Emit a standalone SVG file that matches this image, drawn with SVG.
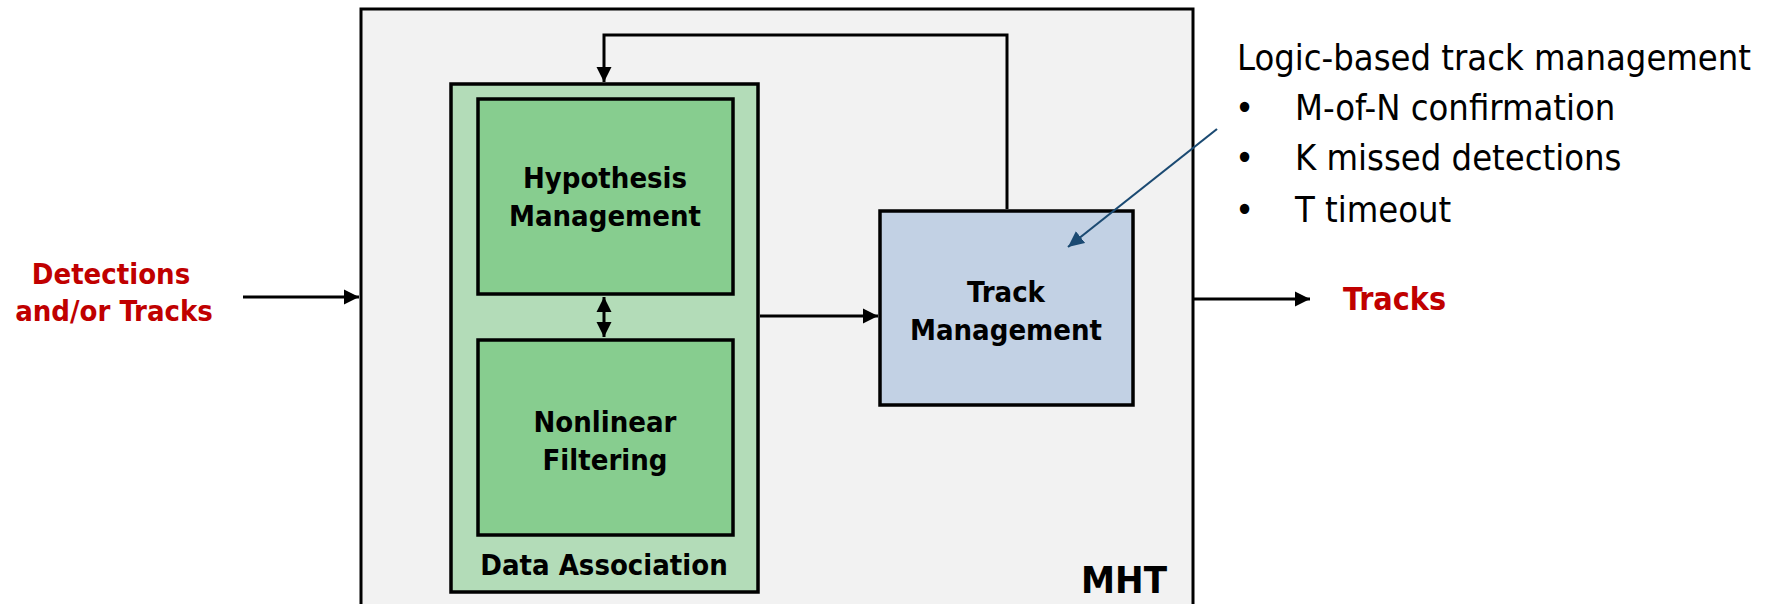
<svg xmlns="http://www.w3.org/2000/svg" width="1792" height="604" viewBox="0 0 1792 604">
  <style>
    .lbl { font-family: "DejaVu Sans Condensed", "DejaVu Sans", "Liberation Sans", sans-serif; font-weight: bold; font-size: 29px; fill: #000; text-anchor: middle; }
    .red { fill: #c00000; }
    .note { font-family: "DejaVu Sans Condensed", "DejaVu Sans", "Liberation Sans", sans-serif; font-size: 36px; fill: #000; }
    .box { stroke: #000; stroke-width: 3.5; }
    .wire { fill: none; stroke: #000; stroke-width: 3; }
  </style>
  <defs>
    <marker id="arrow" markerUnits="userSpaceOnUse" markerWidth="16" markerHeight="16" refX="15" refY="8" orient="auto-start-reverse">
      <path d="M0,0.5 L15,8 L0,15.5 z" fill="#000"/>
    </marker>
    <marker id="arrowBlue" markerUnits="userSpaceOnUse" markerWidth="18" markerHeight="16" refX="16" refY="8" orient="auto">
      <path d="M0,0.5 L16,8 L0,15.5 z" fill="#1b4a72"/>
    </marker>
  </defs>

  <rect width="1792" height="604" fill="#fff"/>

  <!-- MHT container -->
  <g id="mht">
    <rect x="361" y="9" width="832" height="610" fill="#f2f2f2" stroke="#000" stroke-width="3"/>
    <text class="lbl" x="1167" y="593" style="text-anchor:end;font-size:38px">MHT</text>
  </g>

  <!-- Data association group -->
  <g id="data-association">
    <rect class="box" x="451" y="84" width="307" height="508" fill="#b3dcb8"/>
    <text class="lbl" x="604" y="575">Data Association</text>
  </g>

  <g id="hypothesis-management">
    <rect class="box" x="478" y="99" width="255" height="195" fill="#87cd8f"/>
    <text class="lbl" x="605" y="188">Hypothesis</text>
    <text class="lbl" x="605" y="226">Management</text>
  </g>

  <g id="nonlinear-filtering">
    <rect class="box" x="478" y="340" width="255" height="195" fill="#87cd8f"/>
    <text class="lbl" x="605" y="432">Nonlinear</text>
    <text class="lbl" x="605" y="470">Filtering</text>
  </g>

  <g id="track-management">
    <rect class="box" x="880" y="211" width="253" height="194" fill="#c2d1e4"/>
    <text class="lbl" x="1006" y="302">Track</text>
    <text class="lbl" x="1006" y="340">Management</text>
  </g>

  <g id="input-label">
    <text class="lbl red" x="111" y="284">Detections</text>
    <text class="lbl red" x="114" y="321">and/or Tracks</text>
  </g>

  <g id="output-label">
    <text class="lbl red" x="1343" y="310" style="text-anchor:start;font-size:32px">Tracks</text>
  </g>

  <g id="logic-note">
    <text class="note" x="1237" y="70">Logic-based track management</text>
    <text class="note" x="1235" y="120">•</text>
    <text class="note" x="1295" y="120">M-of-N confirmation</text>
    <text class="note" x="1235" y="170">•</text>
    <text class="note" x="1295" y="170">K missed detections</text>
    <text class="note" x="1235" y="222">•</text>
    <text class="note" x="1295" y="222">T timeout</text>
  </g>

  <!-- Connectors -->
  <g id="connectors">
    <line class="wire" x1="243" y1="297" x2="359" y2="297" marker-end="url(#arrow)"/>
    <line class="wire" x1="1193" y1="299" x2="1310" y2="299" marker-end="url(#arrow)"/>
    <line class="wire" x1="760" y1="316" x2="878" y2="316" marker-end="url(#arrow)"/>
    <polyline class="wire" points="1007,209 1007,35 604,35 604,82" marker-end="url(#arrow)"/>
    <line class="wire" x1="604" y1="297" x2="604" y2="337" marker-start="url(#arrow)" marker-end="url(#arrow)"/>
    <line x1="1217" y1="129" x2="1068" y2="247" stroke="#1b4a72" stroke-width="2.2" marker-end="url(#arrowBlue)"/>
  </g>
</svg>
